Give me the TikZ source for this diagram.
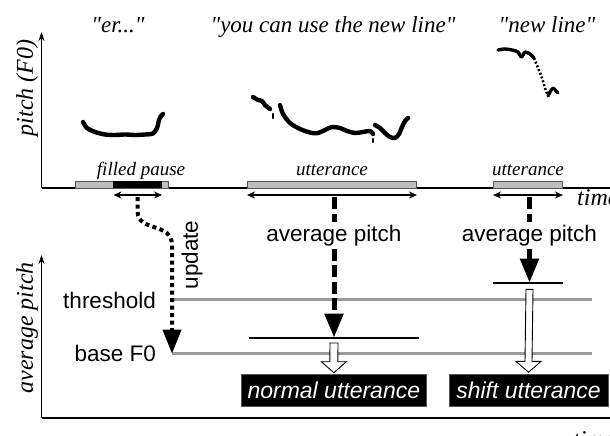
\documentclass[tikz,border=0pt]{standalone}
\usepackage{fontspec}
\setmainfont{Liberation Serif}[Ligatures=TeXOff]
\setsansfont{Liberation Sans}
\usetikzlibrary{arrows.meta,calc}
\definecolor{bargray}{HTML}{BDBDBD}
\definecolor{linegray}{HTML}{9A9A9A}
\definecolor{edgegray}{HTML}{555555}
\begin{document}
\begin{tikzpicture}[x=1pt,y=-1pt,
  axis/.style={line width=1.2pt,-{Stealth[length=9pt,width=6pt]}},
  quote/.style={font=\fontsize{23}{26}\selectfont\itshape,anchor=base,inner sep=0pt},
  axlabel/.style={font=\fontsize{24}{27}\selectfont\itshape,rotate=90,inner sep=0pt},
  barlabel/.style={font=\fontsize{19}{22}\selectfont\itshape,anchor=base,inner sep=0pt},
  sanslabel/.style={font=\fontsize{22.5}{26}\selectfont\sffamily,inner sep=0pt},
  avglabel/.style={font=\fontsize{22.5}{26}\selectfont\sffamily,fill=white,text height=16pt,text depth=5pt,inner sep=2.5pt},
  bar/.style={draw=edgegray,line width=0.8pt,fill=bargray},
  span/.style={line width=1.1pt,{Stealth[length=8pt,width=7pt]}-{Stealth[length=8pt,width=7pt]}},
  thickdash/.style={line width=5pt,dash pattern=on 12pt off 4.5pt},
  dotline/.style={line width=4pt,dash pattern=on 4pt off 3.5pt},
  bigtip/.style={-{Triangle[width=18pt,length=24pt]}},
  level/.style={draw=linegray,line width=3pt},
  avgline/.style={line width=2.2pt},
  hollow/.style={draw=black,line width=0.9pt,fill=white,line join=miter},
  ubox/.style={fill=black,draw=edgegray,line width=0.6pt,text=white,font=\fontsize{23}{26}\selectfont\sffamily\itshape,minimum height=32pt,inner sep=0pt},
  contour/.style={line width=4.4pt,line cap=round,line join=round},
]
\useasboundingbox (0,0) rectangle (610,436);
\clip (0,0) rectangle (610,436);

% ---------- upper panel ----------
\coordinate (o1) at (41.5,188);
\coordinate (y1) at (41.5,32);
\coordinate (x1) at (615,188);
\draw[line width=1.2pt] (o1) -- (x1);
\draw[axis] (o1) -- (y1);
\node[axlabel] (py) at (27,88) {pitch (F0)};
\node[anchor=base west,inner sep=0pt,font=\fontsize{24}{27}\selectfont\itshape] (t1) at (577,205) {time};

\node[quote] (q1) at (118,33) {"er..."};
\node[quote] (q2) at (333,33) {"you can use the new line"};
\node[quote] (q3) at (547,33) {"new line"};

% pitch contours
\draw[contour] plot[smooth] coordinates {(83,122) (87,128) (95,132) (105,134.5) (115,135) (125,134.5) (135,135) (145,134.5) (153,133.5) (157,128) (159,120) (161,116) (163,114)};
\draw[contour] plot[smooth] coordinates {(253,97) (258,100) (262,101) (265,105) (270,109)};
\draw[contour,line width=2.8pt] (273,114) -- (273,118);
\draw[contour] plot[smooth] coordinates {(280,105) (283,114) (290,123) (298,128) (305,131) (312,133) (318,133) (325,130) (332,127) (340,128) (347,131) (355,133) (363,132) (370,131) (373,134)};
\draw[contour,line width=2.4pt] (373,139) -- (373,142);
\draw[contour] plot[smooth] coordinates {(375,125) (380,128) (385,133) (390,137) (395,138) (399,134) (402,127) (405,121) (408,118)};
\draw[contour,line width=3.4pt] plot[smooth] coordinates {(498,50) (505,49) (512,50) (518,52) (521,57) (523,55) (525,52) (530,54) (534,58)};
\draw[line width=2.6pt,dash pattern=on 2pt off 2pt] plot[smooth] coordinates {(534,58) (538,68) (542,78) (545,88) (548,96)};
\draw[contour,line width=3.2pt] plot[smooth] coordinates {(548,96) (550,92) (553,88) (556,91) (558,93)};

% bars
\node[bar,minimum width=92.3pt,minimum height=7pt,inner sep=0pt] (fp) at (121.85,184.5) {};
\fill (113,181) rectangle (161.7,188);
\node[bar,minimum width=169.4pt,minimum height=7pt,inner sep=0pt] (u1) at (332,184.5) {};
\node[bar,minimum width=69.4pt,minimum height=7pt,inner sep=0pt] (u2) at (528,184.5) {};
\node[barlabel] (fpl) at (141,175.7) {filled pause};
\node[barlabel] (u1l) at (332,175.7) {utterance};
\node[barlabel] (u2l) at (528,175.7) {utterance};

% span arrows
\coordinate (fpL) at (113.5,195);
\coordinate (fpR) at (162,195);
\coordinate (u1L) at (247,195);
\coordinate (u1R) at (417,195);
\coordinate (u2L) at (493,195);
\coordinate (u2R) at (563,195);
\draw[span] (fpL) -- (fpR);
\draw[span] (u1L) -- (u1R);
\draw[span] (u2L) -- (u2R);

% ---------- lower panel ----------
\coordinate (o2) at (41.5,418);
\coordinate (y2) at (41.5,255);
\coordinate (x2) at (615,418);
\draw[line width=1.2pt] (o2) -- (x2);
\draw[axis] (o2) -- (y2);
\node[axlabel] (ay) at (27,328) {average pitch};
\node[anchor=base west,inner sep=0pt,font=\fontsize{24}{27}\selectfont\itshape] (t2) at (573,447) {time};

% threshold & base lines
\coordinate (thL) at (172,299.7);
\coordinate (thR) at (592,299.7);
\coordinate (bfL) at (172,353.7);
\coordinate (bfR) at (592,353.7);
\draw[level] (thL) -- (thR);
\draw[level] (bfL) -- (bfR);
\node[sanslabel,anchor=base east] (thl) at (156,308) {threshold};
\node[sanslabel,anchor=base east] (bfl) at (156,361) {base F0};

% update arrow (dotted)
\coordinate (fpS) at (137.7,197);
\draw[dotline,bigtip] (fpS) -- (137.7,212) .. controls (137.7,232) and (172,222) .. (172,245) -- (bfL);
\node[sanslabel,rotate=90] (upd) at (192,255) {update};

% average pitch arrows
\coordinate (u1S) at (334,197);
\coordinate (u2S) at (529.5,197);
\node[avglabel] (ap1) at (334,235.5) {average pitch};
\node[avglabel] (ap2) at (529.5,235.5) {average pitch};
\coordinate (hl1L) at (249,337.7);
\coordinate (hl1R) at (419,337.7);
\coordinate (hl1) at (334,337.7);
\coordinate (hl2L) at (493,282.7);
\coordinate (hl2R) at (563,282.7);
\coordinate (hl2) at (529.5,282.7);
\draw[thickdash] (u1S) -- (ap1.north);
\draw[thickdash,bigtip] (ap1.south) -- (hl1);
\draw[thickdash] (u2S) -- (ap2.north);
\draw[thickdash,bigtip] (ap2.south) -- (hl2);
\draw[avgline] (hl1L) -- (hl1R);
\draw[avgline] (hl2L) -- (hl2R);

% result boxes
\node[ubox,minimum width=184.3pt] (normal) at (333.85,390) {normal utterance};
\node[ubox,minimum width=159pt] (shift) at (528.5,390) {shift utterance};

% hollow arrows
\draw[hollow] ($(hl1)+(-4,5.3)$) -- ($(normal.north)+(-4,-12)$) -- ($(normal.north)+(-12.5,-12)$) -- ($(normal.north)+(0,-1)$) -- ($(normal.north)+(12.5,-12)$) -- ($(normal.north)+(4,-12)$) -- ($(hl1)+(4,5.3)$) -- cycle;
\draw[hollow] ($(hl2)+(-3.5,6.6)$) -- ($(shift.north)+(-3.5,-12.3)$) -- ($(shift.north)+(-12.5,-12.3)$) -- ($(shift.north)+(0,-1.5)$) -- ($(shift.north)+(12.5,-12.3)$) -- ($(shift.north)+(3.5,-12.3)$) -- ($(hl2)+(3.5,6.6)$) -- cycle;
\end{tikzpicture}
\end{document}
